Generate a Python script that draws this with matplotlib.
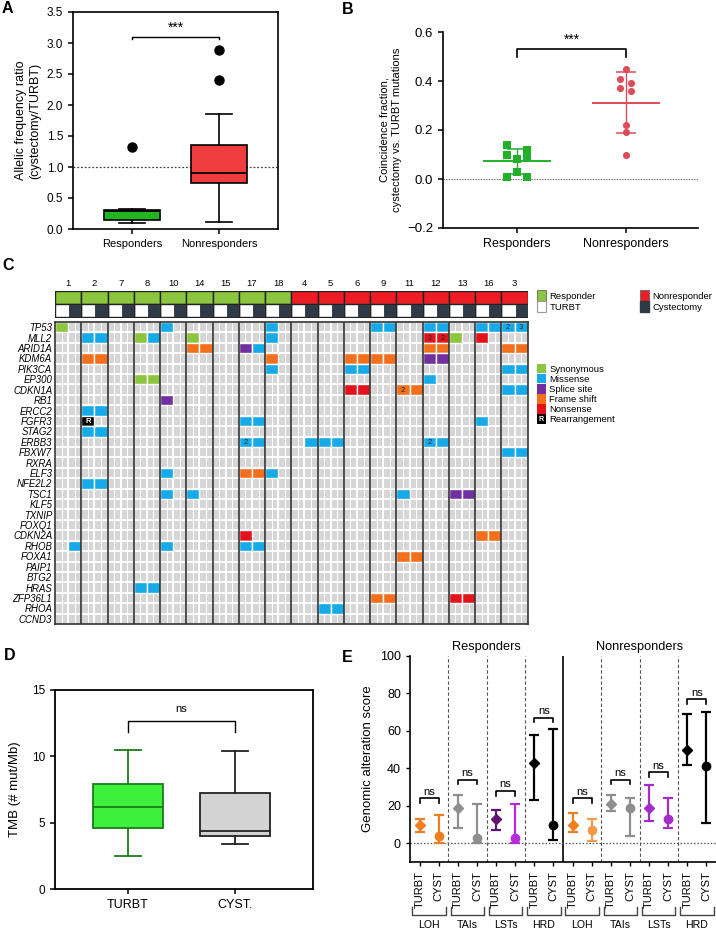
import numpy as np
import matplotlib
matplotlib.use("Agg")
import matplotlib.pyplot as plt
import matplotlib.transforms as mtransforms
from matplotlib.colors import ListedColormap
from matplotlib.patches import Patch, Rectangle
from matplotlib.legend_handler import HandlerPatch
from matplotlib.text import Text

plt.rcParams["font.family"] = ["Liberation Sans", "DejaVu Sans"]

# ---------------------------------------------------------------- data ----
# A: allelic frequency ratio (box stats)
A_GROUPS = ["Responders", "Nonresponders"]
A_WHISLO = [0.10, 0.12]
A_Q1 = [0.14, 0.75]
A_MED = [0.29, 0.90]
A_Q3 = [0.30, 1.35]
A_WHISHI = [0.32, 1.86]
A_FLIERS = [[1.32], [2.40, 2.88]]

# B: coincidence fraction per patient
B_GROUPS = ["Responders", "Nonresponders"]
B_RESP = [0.14, 0.10, 0.12, 0.09, 0.08, 0.03, 0.01, 0.01]
B_NONRESP = [0.45, 0.41, 0.39, 0.37, 0.36, 0.22, 0.19, 0.10]
B_RESP_JITTER = [-0.095, -0.095, 0.095, 0.095, 0.0, 0.0, -0.095, 0.095]
B_NONRESP_JITTER = [0.0, -0.055, 0.045, -0.055, 0.045, 0.0, 0.0, 0.0]

# C: oncoprint
PATIENTS = [1, 2, 7, 8, 10, 14, 15, 17, 18, 4, 5, 6, 9, 11, 12, 13, 16, 3]
RESPONDER = [True] * 9 + [False] * 9
GENES = ["TP53", "MLL2", "ARID1A", "KDM6A", "PIK3CA", "EP300", "CDKN1A", "RB1",
         "ERCC2", "FGFR3", "STAG2", "ERBB3", "FBXW7", "RXRA", "ELF3", "NFE2L2",
         "TSC1", "KLF5", "TXNIP", "FOXQ1", "CDKN2A", "RHOB", "FOXA1", "PAIP1",
         "BTG2", "HRAS", "ZFP36L1", "RHOA", "CCND3"]
MUT_TYPES = ["Synonymous", "Missense", "Splice site", "Frame shift", "Nonsense", "Rearrangement"]
# (gene, patient, sample: T=TURBT / C=cystectomy, type index, cell label)
MUTATIONS = [
    ("TP53", 1, "T", 0, ""), ("TP53", 10, "T", 1, ""), ("TP53", 18, "T", 1, ""),
    ("TP53", 9, "TC", 1, ""), ("TP53", 12, "TC", 1, ""), ("TP53", 16, "TC", 1, ""),
    ("TP53", 3, "T", 1, "2"), ("TP53", 3, "C", 1, "3"),
    ("MLL2", 2, "TC", 1, ""), ("MLL2", 8, "T", 0, ""), ("MLL2", 8, "C", 1, ""),
    ("MLL2", 14, "T", 0, ""), ("MLL2", 18, "T", 1, ""), ("MLL2", 12, "T", 4, "2"),
    ("MLL2", 12, "C", 4, "2"), ("MLL2", 13, "T", 0, ""), ("MLL2", 16, "T", 4, ""),
    ("ARID1A", 14, "TC", 3, ""), ("ARID1A", 17, "T", 2, ""), ("ARID1A", 17, "C", 1, ""),
    ("ARID1A", 12, "TC", 3, ""), ("ARID1A", 3, "TC", 3, ""),
    ("KDM6A", 2, "TC", 3, ""), ("KDM6A", 18, "T", 3, ""), ("KDM6A", 6, "TC", 3, ""),
    ("KDM6A", 9, "TC", 3, ""), ("KDM6A", 12, "TC", 2, ""),
    ("PIK3CA", 18, "T", 1, ""), ("PIK3CA", 6, "TC", 1, ""), ("PIK3CA", 3, "TC", 1, ""),
    ("EP300", 8, "TC", 0, ""), ("EP300", 12, "T", 1, ""),
    ("CDKN1A", 6, "TC", 4, ""), ("CDKN1A", 11, "T", 3, "2"), ("CDKN1A", 11, "C", 3, ""),
    ("CDKN1A", 3, "TC", 1, ""),
    ("RB1", 10, "T", 2, ""),
    ("ERCC2", 2, "TC", 1, ""),
    ("FGFR3", 2, "T", 5, "R"), ("FGFR3", 17, "TC", 1, ""), ("FGFR3", 16, "T", 1, ""),
    ("STAG2", 2, "TC", 1, ""),
    ("ERBB3", 17, "T", 1, "2"), ("ERBB3", 17, "C", 1, ""), ("ERBB3", 4, "C", 1, ""),
    ("ERBB3", 5, "TC", 1, ""), ("ERBB3", 12, "T", 1, "2"), ("ERBB3", 12, "C", 1, ""),
    ("FBXW7", 3, "TC", 1, ""),
    ("ELF3", 10, "T", 1, ""), ("ELF3", 17, "TC", 3, ""), ("ELF3", 18, "T", 1, ""),
    ("NFE2L2", 2, "TC", 1, ""),
    ("TSC1", 10, "T", 1, ""), ("TSC1", 14, "T", 1, ""), ("TSC1", 11, "T", 1, ""),
    ("TSC1", 13, "TC", 2, ""),
    ("CDKN2A", 17, "T", 4, ""), ("CDKN2A", 16, "TC", 3, ""),
    ("RHOB", 1, "C", 1, ""), ("RHOB", 10, "T", 1, ""), ("RHOB", 17, "TC", 1, ""),
    ("FOXA1", 11, "TC", 3, ""),
    ("HRAS", 8, "TC", 1, ""),
    ("ZFP36L1", 9, "TC", 3, ""), ("ZFP36L1", 13, "TC", 4, ""),
    ("RHOA", 5, "TC", 1, ""),
]

# D: tumour mutational burden (box stats)
D_GROUPS = ["TURBT", "CYST."]
D_WHISLO = [2.5, 3.4]
D_Q1 = [4.6, 4.0]
D_MED = [6.2, 4.35]
D_Q3 = [7.95, 7.25]
D_WHISHI = [10.5, 10.4]

# E: genomic scar scores (mean with range), order: cohort > score > sample
E_COHORTS = ["Responders", "Nonresponders"]
E_SCORES = ["LOH", "TAIs", "LSTs", "HRD"]
E_SAMPLES = ["TURBT", "CYST"]
E_MEAN = [10, 4, 19, 3, 13, 3, 43, 10, 10, 7, 21, 19, 19, 13, 50, 41]
E_LOW = [6, 0, 8, 0, 7, 0, 23, 2, 6, 1, 17, 4, 12, 8, 42, 11]
E_HIGH = [13, 15, 26, 21, 18, 21, 58, 61, 16, 13, 26, 24, 31, 24, 69, 70]
E_NS_Y = [24, 34, 28, 67, 24, 34, 38, 77]

# ---------------------------------------------------------------- style ----
GREEN_A = "#22B422"
RED_A = "#F03C3C"
GREEN_B = "#22B02A"
RED_B = "#DC4C5A"
HDR_GREEN = "#8CC63E"
HDR_RED = "#EE1C24"
DARK = "#2E3A46"
CELL_GRAY = "#D6D6D6"
MUT_COLORS = ["#8CC63E", "#16AAE8", "#7030A0", "#F36F1C", "#E3121B", "#000000"]
E_COLORS = ["#F07D1E", "#F07D1E", "#8E8E8E", "#8E8E8E", "#5E1470", "#B52BD6", "black", "black",
            "#F07D1E", "#F39A4A", "#8E8E8E", "#8E8E8E", "#A52CC8", "#A52CC8", "black", "black"]

W, H = 716, 931
fig = plt.figure(figsize=(W / 100, H / 100), dpi=100)
fig.patch.set_facecolor("white")


def add_ax(l, t, r, b):
    return fig.add_axes([l / W, 1 - b / H, (r - l) / W, (b - t) / H])


def letter(x, y, s):
    fig.text(x / W, 1 - y / H, s, fontsize=11.5, fontweight="bold", ha="left", va="top")


def bracket(ax, x0, x1, y, drop, text, fs=8, pad=0.0, lw=1.0):
    ax.plot([x0, x0, x1, x1], [y - drop, y, y, y - drop], color="black", lw=lw)
    ax.text((x0 + x1) / 2, y + pad, text, ha="center", va="bottom", fontsize=fs)


# ================================================================ A =====
ax = add_ax(73, 12, 278, 229)
statsA = [dict(whislo=a, q1=b, med=c, q3=d, whishi=e, fliers=f)
          for a, b, c, d, e, f in zip(A_WHISLO, A_Q1, A_MED, A_Q3, A_WHISHI, A_FLIERS)]
bp = ax.bxp(statsA, positions=[1, 2], widths=0.65, capwidths=0.3, patch_artist=True,
            boxprops=dict(lw=1.2, edgecolor="black"),
            medianprops=dict(color="black", lw=1.3),
            whiskerprops=dict(lw=1.2), capprops=dict(lw=1.2),
            flierprops=dict(marker="o", mfc="black", mec="black", ms=6.5))
for patch, c in zip(bp["boxes"], [GREEN_A, RED_A]):
    patch.set_facecolor(c)
ax.axhline(1.0, color="#444", ls=(0, (1.5, 1.5)), lw=0.9, zorder=0.5)
bracket(ax, 1, 2, 3.1, 0.04, "***", fs=10, pad=0.04)
ax.set_xlim(0.322, 2.678)
ax.set_ylim(0, 3.5)
ax.set_yticks(np.arange(0, 3.51, 0.5))
ax.set_yticklabels([f"{v:.1f}" for v in np.arange(0, 3.51, 0.5)])
ax.set_xticks([1, 2], A_GROUPS)
ax.tick_params(axis="y", labelsize=8.5, width=1.1, length=3.5)
ax.tick_params(axis="x", labelsize=8, width=1.1, length=3.5)
for s in ax.spines.values():
    s.set_linewidth(1.2)
ax.set_ylabel("Allelic frequency ratio\n(cystectomy/TURBT)", fontsize=9, labelpad=4)
letter(2, 1, "A")

# ================================================================ B =====
ax = add_ax(443, 32, 698, 228)
for pos, vals, jit, col, mk in [(1, B_RESP, B_RESP_JITTER, GREEN_B, "s"),
                                (2, B_NONRESP, B_NONRESP_JITTER, RED_B, "o")]:
    vals = np.asarray(vals)
    m, sd = vals.mean(), vals.std(ddof=1)
    ax.scatter(pos + np.asarray(jit), vals, marker=mk, s=26, color=col, zorder=3, lw=0)
    ax.plot([pos - 0.3, pos + 0.3], [m, m], color=col, lw=1.4, zorder=2)
    ax.errorbar([pos], [m], yerr=[sd], color=col, lw=1.0, capsize=7, capthick=1.1, zorder=2)
ax.axhline(0, color="#666", ls=(0, (1.2, 1.2)), lw=0.8, zorder=0.5)
bracket(ax, 1, 2, 0.53, 0.03, "***", fs=10, pad=0.01, lw=1.2)
ax.set_xlim(0.321, 2.66)
ax.set_ylim(-0.2, 0.6)
ax.set_yticks([-0.2, 0.0, 0.2, 0.4, 0.6])
ax.set_yticklabels(["\u22120.2", "0.0", "0.2", "0.4", "0.6"])
ax.set_xticks([1, 2], B_GROUPS)
ax.tick_params(axis="y", labelsize=9.5, width=1.1, length=3.5)
ax.tick_params(axis="x", labelsize=9, width=1.1, length=3.5)
for s in ["top", "right"]:
    ax.spines[s].set_visible(False)
for s in ["left", "bottom"]:
    ax.spines[s].set_linewidth(1.2)
ax.set_ylabel("Coincidence fraction,\ncystectomy vs. TURBT mutations", fontsize=8, labelpad=4)
letter(342, 2, "B")

# ================================================================ C =====
n_cols = 2 * len(PATIENTS)
pidx = {p: i for i, p in enumerate(PATIENTS)}
centers = np.arange(len(PATIENTS)) * 2 + 1

# header
axh = add_ax(55, 290.7, 527.7, 317.5)
axh.bar(centers, 1, bottom=0, width=2,
        color=[HDR_GREEN if r else HDR_RED for r in RESPONDER], edgecolor="#222", lw=1.0)
axh.bar(np.arange(n_cols) + 0.5, 1, bottom=1, width=1,
        color=["white", DARK] * len(PATIENTS), edgecolor="white", lw=0.8)
axh.bar(centers, 1, bottom=1, width=2, fill=False, edgecolor="#222", lw=1.0)
axh.set_xlim(0, n_cols)
axh.set_ylim(2, 0)
axh.xaxis.tick_top()
axh.set_xticks(centers, [str(p) for p in PATIENTS])
axh.tick_params(axis="x", length=0, pad=2, labelsize=6.8)
axh.set_yticks([])
for s in axh.spines.values():
    s.set_visible(False)

# grid
axg = add_ax(55, 322, 527.7, 624)
bg = np.zeros((len(GENES), 2 * n_cols))
axg.pcolormesh(np.linspace(0, n_cols, 2 * n_cols + 1), np.arange(len(GENES) + 1), bg,
               cmap=ListedColormap([CELL_GRAY]), edgecolors="white", linewidth=0.6)
axg.hlines(np.arange(1, len(GENES)), 0, n_cols, color="white", lw=1.3)
axg.vlines(np.arange(1, n_cols, 2), 0, len(GENES), color="white", lw=1.3)
gidx = {g: i for i, g in enumerate(GENES)}
for gene, pat, samp, mtype, lab in MUTATIONS:
    row = gidx[gene]
    for sm in samp:
        col = 2 * pidx[pat] + (0 if sm == "T" else 1)
        axg.bar(col + 0.5, 1, bottom=row, width=1, color=MUT_COLORS[mtype],
                edgecolor="white", lw=1.0, zorder=3)
        if lab:
            axg.text(col + 0.5, row + 0.55, lab, ha="center", va="center", fontsize=5.5,
                     color="white" if mtype == 5 else "#1c2b3a",
                     fontweight="bold" if mtype == 5 else "normal", zorder=4)
axg.vlines(np.arange(2, n_cols, 2), 0, len(GENES), color="#333", lw=1.2, zorder=5)
axg.set_xlim(0, n_cols)
axg.set_ylim(len(GENES), 0)
axg.set_xticks([])
axg.set_yticks(np.arange(len(GENES)) + 0.5, GENES)
axg.tick_params(axis="y", length=0, pad=2, labelsize=6.9)
for t in axg.get_yticklabels():
    t.set_fontstyle("italic")
for s in axg.spines.values():
    s.set_linewidth(1.2)
    s.set_color("#333")
    s.set_zorder(6)
letter(2, 258, "C")


class RBoxHandler(HandlerPatch):
    def create_artists(self, legend, orig_handle, xdescent, ydescent, width, height, fontsize, trans):
        r = Rectangle((-xdescent, -ydescent), width, height, facecolor="black",
                      edgecolor="none", transform=trans)
        t = Text(-xdescent + width / 2, -ydescent + height / 2, "R", color="white",
                 ha="center", va="center", fontsize=fontsize * 0.75, fontweight="bold",
                 transform=trans)
        return [r, t]


leg_kw = dict(loc="upper left", frameon=False, borderpad=0, borderaxespad=0,
              handletextpad=0.35, fontsize=6.8, handlelength=0.95)
l1 = fig.legend([Patch(fc=HDR_GREEN, ec="#666", lw=0.6), Patch(fc="white", ec="#999", lw=0.8)],
                ["Responder", "TURBT"], bbox_to_anchor=(537 / W, 1 - 290 / H),
                labelspacing=0.05, handleheight=1.4, **leg_kw)
l2 = fig.legend([Patch(fc=HDR_RED, ec="#666", lw=0.6), Patch(fc=DARK, ec=DARK)],
                ["Nonresponder", "Cystectomy"], bbox_to_anchor=(640 / W, 1 - 290 / H),
                labelspacing=0.05, handleheight=1.4, **leg_kw)
mut_handles = [Patch(fc=c, ec="none") for c in MUT_COLORS]
l3 = fig.legend(mut_handles, MUT_TYPES, bbox_to_anchor=(537 / W, 1 - 364 / H),
                labelspacing=0.02, handleheight=1.15,
                handler_map={mut_handles[-1]: RBoxHandler()}, **leg_kw)

# ================================================================ D =====
ax = add_ax(55, 690, 313, 889)
statsD = [dict(whislo=a, q1=b, med=c, q3=d, whishi=e, fliers=[])
          for a, b, c, d, e in zip(D_WHISLO, D_Q1, D_MED, D_Q3, D_WHISHI)]
bp = ax.bxp(statsD, positions=[1, 2], widths=0.65, capwidths=0.24, patch_artist=True,
            showfliers=False, boxprops=dict(lw=1.3), medianprops=dict(lw=1.3),
            whiskerprops=dict(lw=1.3), capprops=dict(lw=1.3))
for i, (fc, ec) in enumerate([("#3CF03C", "#1E7B1E"), ("#D3D3D3", "#222222")]):
    bp["boxes"][i].set_facecolor(fc)
    bp["boxes"][i].set_edgecolor(ec)
    bp["medians"][i].set_color(ec)
    for art in bp["whiskers"][2 * i:2 * i + 2] + bp["caps"][2 * i:2 * i + 2]:
        art.set_color(ec)
bracket(ax, 1, 2, 12.7, 0.9, "ns", fs=8, pad=0.5)
ax.set_xlim(0.318, 2.729)
ax.set_ylim(0, 15)
ax.set_yticks([0, 5, 10, 15])
ax.set_xticks([1, 2], D_GROUPS)
ax.tick_params(axis="y", labelsize=8.5, width=1.1, length=3.5)
ax.tick_params(axis="x", labelsize=9, width=1.1, length=3.5)
for s in ax.spines.values():
    s.set_linewidth(1.3)
ax.set_ylabel("TMB (# mut/Mb)", fontsize=9.5, labelpad=8)
letter(4, 648, "D")

# ================================================================ E =====
ax = add_ax(410, 656, 716, 862)
xs = np.arange(len(E_MEAN)) + 0.5
mean = np.asarray(E_MEAN)
low = np.asarray(E_LOW)
high = np.asarray(E_HIGH)
for i in range(len(E_MEAN)):
    mk = "D" if i % 2 == 0 else "o"
    ax.errorbar(xs[i], mean[i], yerr=[[mean[i] - low[i]], [high[i] - mean[i]]],
                color=E_COLORS[i], marker=mk, ms=5 if mk == "D" else 6,
                lw=1.6, capsize=3.5, capthick=1.6, zorder=3)
for x in [2, 4, 6, 10, 12, 14]:
    ax.axvline(x, color="#555", ls=(0, (3, 2)), lw=0.8, zorder=1)
ax.axvline(8, color="black", lw=1.2, zorder=1)
ax.axhline(0, color="#555", ls=(0, (1.2, 1.5)), lw=0.9, zorder=1)
for g, y in enumerate(E_NS_Y):
    bracket(ax, 2 * g + 0.5, 2 * g + 1.5, y, 2.5, "ns", fs=8, pad=0.8, lw=1.2)
ax.set_xlim(0, 16)
ax.set_ylim(-10, 100)
ax.set_yticks(np.arange(0, 101, 20))
ax.set_xticks(xs, E_SAMPLES * (len(E_MEAN) // 2), rotation=90)
ax.tick_params(axis="y", labelsize=9, width=1.0, length=3)
ax.tick_params(axis="x", labelsize=8, width=1.0, length=3)
for s in ["top", "right"]:
    ax.spines[s].set_visible(False)
for s in ["left", "bottom"]:
    ax.spines[s].set_linewidth(1.2)
ax.set_ylabel("Genomic alteration score", fontsize=9.5, labelpad=4)
tr = mtransforms.blended_transform_factory(ax.transData, ax.transAxes)
for c, name in enumerate(E_COHORTS):
    ax.text(8 * c + 4, 1.015, name, transform=tr, ha="center", va="bottom", fontsize=9.2)
    for s, sc in enumerate(E_SCORES):
        g = 4 * c + s
        x0, x1 = 2 * g + 0.12, 2 * g + 1.88
        ax.plot([x0, x0, x1, x1], [-0.218, -0.257, -0.257, -0.218], transform=tr,
                clip_on=False, color="#444", lw=1.0)
        ax.text(2 * g + 1, -0.305, sc, transform=tr, ha="center", va="center", fontsize=7.6)
letter(342, 650, "E")

fig.savefig("out.png", dpi=100, facecolor="white")
